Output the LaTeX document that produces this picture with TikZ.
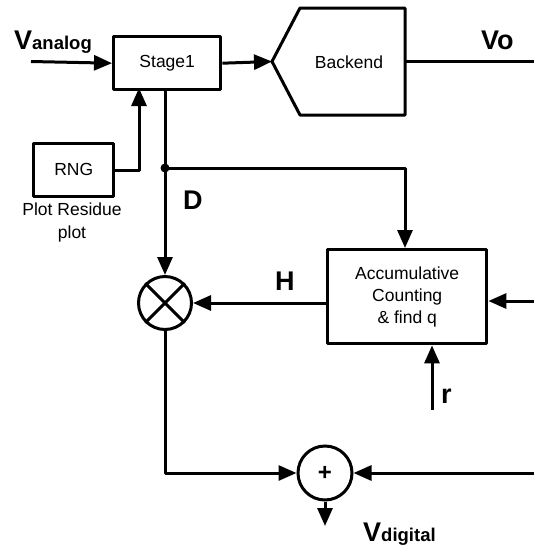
\documentclass[tikz,border=0pt]{standalone}
\usepackage{fontspec}
\setmainfont{Liberation Sans}
\usetikzlibrary{arrows.meta}
\tikzset{
  wire/.style={line width=3pt,line join=round},
  arr/.style={wire,-{Triangle[length=18pt,width=15pt]}},
  block/.style={draw,line width=3.4pt,line join=round,inner sep=0pt,font=\fontsize{17.5}{22}\selectfont,align=center,anchor=north west},
  circ/.style={draw,circle,line width=3pt,inner sep=0pt,fill=white},
  lab/.style={inner sep=0pt,font=\fontsize{17.5}{23}\selectfont,align=center},
  big/.style={inner sep=0pt,font=\fontsize{27}{30}\bfseries\selectfont,anchor=base west},
}
\newcommand{\bigsub}[2]{#1{\fontsize{18.5}{20}\selectfont #2}}
\begin{document}
\begin{tikzpicture}[x=1pt,y=-1pt]
\useasboundingbox (0,0) rectangle (534,547);
\node[block,minimum width=107pt,minimum height=53pt] (stage) at (112,35) {Stage1};
\node[block,minimum width=80pt,minimum height=53pt] (rng) at (32,142) {\raisebox{2pt}{RNG}};
\node[block,minimum width=159pt,minimum height=94pt] (acc) at (326,248) {Accumulative\\Counting\\\& find q};
\draw[wire] (272,61.5) coordinate (bl) -- (300,8) coordinate (b1) -- (405,8) coordinate (b2) -- (405,115) coordinate (b3) -- (300,115) coordinate (b4) -- cycle;
\node[lab] (back) at (349,62) {Backend};
\node[lab,anchor=north] (plot) at (72,203) {Plot Residue\\plot};
\node[circ,minimum size=53pt] (mul) at (165,303) {};
\draw[wire] (mul.north west) -- (mul.south east) (mul.north east) -- (mul.south west);
\node[circ,minimum size=54pt,font=\fontsize{24}{26}\bfseries\selectfont] (sum) at (325,473) {+};
\coordinate (in) at (31,61.5);
\coordinate (vo) at (534,61.5);
\coordinate (dot) at (165,168);
\coordinate (right1) at (534,301);
\coordinate (right2) at (534,473);
\coordinate (rr) at (432,410);
\coordinate (down) at (325,526);
\coordinate (c1) at (165,473);
\draw[arr] (in) -- (stage.west);
\draw[arr] (stage.east) -- (bl);
\draw[wire] (b2 |- vo) -- (vo);
\draw[arr] (rng.east) -| (139,88);
\draw[arr] (165,88) -- (mul.north);
\fill (dot) circle (4.5pt);
\draw[arr] (dot) -| (405,248);
\draw[arr] (acc.west |- mul) -- (mul.east);
\draw[arr] (right1) -- (acc.east |- right1);
\draw[arr] (rr) -- (rr |- acc.south);
\draw[arr] (mul.south) -- (c1) -- (sum.west);
\draw[arr] (right2) -- (sum.east);
\draw[arr] (sum.south) -- (down);
\node[big] (va) at (14,49) {\bigsub{V}{analog}};
\node[big] (vod) at (481,49) {Vo};
\node[big] (d) at (183,209) {D};
\node[big] (h) at (275,290) {H};
\node[big] (r) at (441,403) {r};
\node[big] (vd) at (363,541) {\bigsub{V}{digital}};
\end{tikzpicture}
\end{document}
